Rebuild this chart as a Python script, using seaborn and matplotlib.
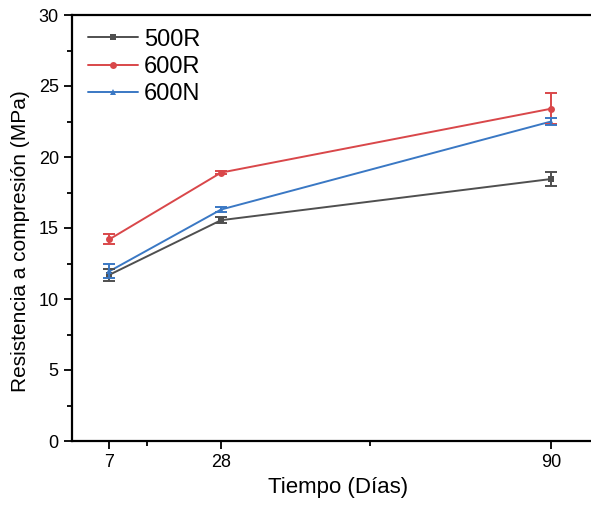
import numpy as np
import pandas as pd
import matplotlib
matplotlib.use("Agg")
import matplotlib.pyplot as plt
import seaborn as sns

# datos
dias = [7, 28, 90]
r500 = [11.7, 15.55, 18.45]
r600 = [14.2, 18.9, 23.4]
n600 = [11.95, 16.3, 22.5]
err500 = [0.4, 0.2, 0.5]
err600r = [0.35, 0.12, 1.1]
err600n = [0.5, 0.15, 0.25]

series = ["500R", "600R", "600N"]
colores = ["#4f4f4f", "#d9474a", "#3a78c4"]
marcadores = ["s", "o", "^"]

df = pd.DataFrame({
    "dias": dias * 3,
    "res": r500 + r600 + n600,
    "err": err500 + err600r + err600n,
    "serie": [s for s in series for _ in dias],
})

sns.set_style("ticks")
plt.rcParams['font.family'] = ['Liberation Sans', 'DejaVu Sans']
plt.rcParams['text.color'] = 'black'
plt.rcParams['axes.labelcolor'] = 'black'
plt.rcParams['xtick.color'] = 'black'
plt.rcParams['ytick.color'] = 'black'

fig = plt.figure(figsize=(5.91, 5.15), dpi=100)
ax = fig.add_axes([72/591, 1 - 441/515, 1 - 72/591, (441 - 15)/515])

sns.lineplot(data=df, x="dias", y="res", hue="serie", style="serie",
             palette=colores, markers=marcadores, dashes=False,
             markersize=5, linewidth=1.4, markeredgewidth=0, ax=ax)

for s, c in zip(series, colores):
    d = df[df["serie"] == s]
    ax.errorbar(d["dias"], d["res"], yerr=d["err"], fmt="none",
                ecolor=c, elinewidth=1.4, capsize=4, capthick=1.4)

ax.set_xlim(0, 97.5)
ax.set_ylim(0, 30)
ax.set_xticks(dias)
ax.set_xticks([14.1, 56], minor=True)
ax.set_yticks(np.arange(0, 31, 5))
ax.set_yticks(np.arange(2.5, 30, 5), minor=True)
ax.tick_params(axis="both", which="major", length=6, width=1.3, labelsize=13,
               direction="out", colors="black")
ax.tick_params(axis="both", which="minor", length=3.5, width=1.3, direction="out")

for sp in ["left", "bottom", "top"]:
    ax.spines[sp].set_linewidth(1.6)
    ax.spines[sp].set_color("black")
ax.spines["right"].set_visible(False)

ax.set_xlabel("Tiempo (Días)", fontsize=16, color="black")
ax.xaxis.set_label_coords(0.5125, -0.085)
ax.set_ylabel("Resistencia a compresión (MPa)", fontsize=15, color="black")
ax.yaxis.set_label_coords(-0.08, 0.47)

leg = ax.legend(loc="upper left", bbox_to_anchor=(0.013, 0.99), frameon=False,
                fontsize=17, handlelength=2.1, handletextpad=0.25,
                labelspacing=0.22, borderaxespad=0)
for h in leg.get_lines():
    h.set_linewidth(1.4)
for t in leg.get_texts():
    t.set_color("black")

fig.savefig("out.png", dpi=100)
